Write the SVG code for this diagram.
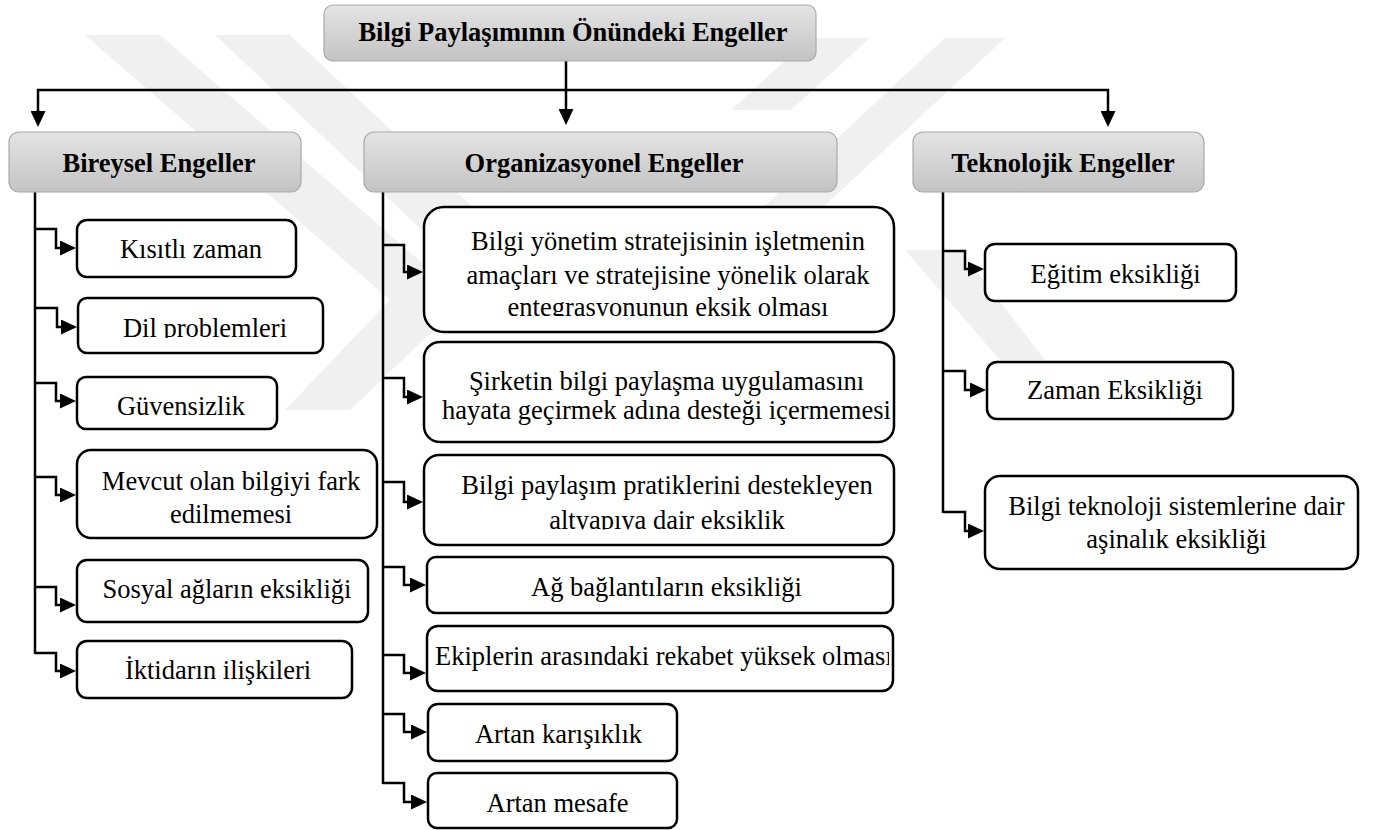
<svg xmlns="http://www.w3.org/2000/svg" width="1379" height="830" viewBox="0 0 1379 830">
<style>
.wm{fill:#f0f0f0}
.hdr{fill:url(#g);stroke:#a9a9a9;stroke-width:1.2}
.box{fill:#fff;stroke:#000;stroke-width:2.5}
.t{font-family:"Liberation Serif","Times New Roman",serif;font-size:26.5px;fill:#000;text-anchor:middle}
.b{font-weight:bold}
.c path{fill:none;stroke:#000;stroke-width:2.5;stroke-linejoin:miter}
</style>
<defs>
<linearGradient id="g" x1="0" y1="0" x2="0" y2="1">
<stop offset="0" stop-color="#e4e4e4"/>
<stop offset="1" stop-color="#c3c3c3"/>
</linearGradient>
<marker id="a" markerUnits="userSpaceOnUse" markerWidth="16" markerHeight="15" viewBox="0 0 16 15" refX="0" refY="7.5" orient="auto">
<path d="M0,0 L16,7.5 L0,15 Z" fill="#000"/>
</marker>
<clipPath id="cDil"><rect x="78" y="298" width="245" height="40"/></clipPath>
<clipPath id="cO1"><rect x="424" y="207" width="470" height="109"/></clipPath>
<clipPath id="cO2"><rect x="425" y="342" width="467" height="100"/></clipPath>
<clipPath id="cO3"><rect x="424" y="455" width="470" height="74.5"/></clipPath>
<clipPath id="cO5"><rect x="428" y="626" width="461" height="65"/></clipPath>
</defs>
<rect width="1379" height="830" fill="#fff"/>
<g id="watermark">
<polygon class="wm" points="85,35 160,35 465,300 390,300"/>
<polygon class="wm" points="215,35 290,35 497,230 422,230"/>
<polygon class="wm" points="810,38 870,38 791,110 731,110"/>
<polygon class="wm" points="945,38 1005,38 777,250 717,250"/>
<polygon class="wm" points="390,300 465,300 350,410 285,410"/>
<polygon class="wm" points="905,250 960,250 1045,360 1000,360"/>
</g>
<g id="connectors" class="c">
<path d="M566,61 V109" marker-end="url(#a)"/>
<path d="M38,111 V90 H1108 V111" />
<path d="M38,110 V111" marker-end="url(#a)"/>
<path d="M1108,110 V111" marker-end="url(#a)"/>
<path d="M35,192 V654"/>
<path d="M35,229 H56 V248 H60" marker-end="url(#a)"/>
<path d="M35,308 H57 V327 H61" marker-end="url(#a)"/>
<path d="M35,383 H56 V401 H60" marker-end="url(#a)"/>
<path d="M35,477 H56 V495 H60" marker-end="url(#a)"/>
<path d="M35,587 H56 V605 H60" marker-end="url(#a)"/>
<path d="M35,653 H56 V671 H60" marker-end="url(#a)"/>
<path d="M383,192 V784"/>
<path d="M383,245 H404 V272 H407" marker-end="url(#a)"/>
<path d="M383,378 H404 V397 H407" marker-end="url(#a)"/>
<path d="M383,482 H404 V502 H407" marker-end="url(#a)"/>
<path d="M383,567 H404 V585 H410" marker-end="url(#a)"/>
<path d="M383,655 H404 V673 H410" marker-end="url(#a)"/>
<path d="M383,714 H404 V732 H411" marker-end="url(#a)"/>
<path d="M383,783 H404 V802 H411" marker-end="url(#a)"/>
<path d="M943,192 V513"/>
<path d="M943,251 H965 V269 H968" marker-end="url(#a)"/>
<path d="M943,371 H965 V390 H970" marker-end="url(#a)"/>
<path d="M943,512 H965 V531 H968" marker-end="url(#a)"/>
</g>
<g id="n-root"><rect class="hdr" x="324" y="5" width="492" height="56" rx="9"/><text class="t b" x="573" y="41">Bilgi Paylaşımının Önündeki Engeller</text></g>
<g id="n-bireysel"><rect class="hdr" x="9" y="132" width="292" height="60" rx="10"/><text class="t b" x="159" y="172">Bireysel Engeller</text></g>
<g id="n-org"><rect class="hdr" x="364" y="132" width="473" height="60" rx="10"/><text class="t b" x="604" y="172">Organizasyonel Engeller</text></g>
<g id="n-tek"><rect class="hdr" x="913" y="132" width="291" height="60" rx="10"/><text class="t b" x="1063" y="172">Teknolojik Engeller</text></g>
<g id="n-b1"><rect class="box" x="77" y="220" width="219" height="57" rx="10"/><text class="t" x="191" y="258">Kısıtlı zaman</text></g>
<g id="n-b2"><rect class="box" x="78" y="298" width="245" height="55" rx="9"/><text class="t" x="205" y="337" clip-path="url(#cDil)">Dil problemleri</text></g>
<g id="n-b3"><rect class="box" x="77" y="377" width="200" height="52" rx="9"/><text class="t" x="181" y="415">Güvensizlik</text></g>
<g id="n-b4"><rect class="box" x="77" y="450" width="300" height="88" rx="14"/><text class="t" x="231" y="490">Mevcut olan bilgiyi fark</text><text class="t" x="231" y="523">edilmemesi</text></g>
<g id="n-b5"><rect class="box" x="77" y="560" width="291" height="62" rx="10"/><text class="t" x="227" y="598">Sosyal ağların eksikliği</text></g>
<g id="n-b6"><rect class="box" x="77" y="641" width="275" height="57" rx="10"/><text class="t" x="218" y="679">İktidarın ilişkileri</text></g>
<g id="n-o1"><rect class="box" x="424" y="207" width="470" height="125" rx="20"/><g clip-path="url(#cO1)"><text class="t" x="668" y="250">Bilgi yönetim stratejisinin işletmenin</text><text class="t" x="668" y="284">amaçları ve stratejisine yönelik olarak</text><text class="t" x="668" y="316">entegrasyonunun eksik olması</text></g></g>
<g id="n-o2"><rect class="box" x="424" y="342" width="470" height="100" rx="16"/><g clip-path="url(#cO2)"><text class="t" x="666.5" y="390">Şirketin bilgi paylaşma uygulamasını</text><text class="t" x="666.5" y="419">hayata geçirmek adına desteği içermemesi</text></g></g>
<g id="n-o3"><rect class="box" x="424" y="455" width="470" height="90" rx="15"/><g clip-path="url(#cO3)"><text class="t" x="667" y="494">Bilgi paylaşım pratiklerini destekleyen</text><text class="t" x="667" y="529">altyapıya dair eksiklik</text></g></g>
<g id="n-o4"><rect class="box" x="427" y="557" width="466" height="56" rx="9"/><text class="t" x="666.5" y="596">Ağ bağlantıların eksikliği</text></g>
<g id="n-o5"><rect class="box" x="427" y="626" width="466" height="65" rx="11"/><text class="t" x="435" y="665" style="text-anchor:start" clip-path="url(#cO5)">Ekiplerin arasındaki rekabet yüksek olması</text></g>
<g id="n-o6"><rect class="box" x="428" y="704" width="249" height="57" rx="10"/><text class="t" x="558.5" y="743">Artan karışıklık</text></g>
<g id="n-o7"><rect class="box" x="428" y="773" width="249" height="55" rx="9"/><text class="t" x="557.5" y="812">Artan mesafe</text></g>
<g id="n-t1"><rect class="box" x="985" y="244" width="251" height="57" rx="10"/><text class="t" x="1115.5" y="283">Eğitim eksikliği</text></g>
<g id="n-t2"><rect class="box" x="987" y="362" width="246" height="57" rx="10"/><text class="t" x="1115" y="399">Zaman Eksikliği</text></g>
<g id="n-t3"><rect class="box" x="985" y="476" width="373" height="93" rx="15"/><text class="t" x="1176.5" y="515">Bilgi teknoloji sistemlerine dair</text><text class="t" x="1176.5" y="548">aşinalık eksikliği</text></g>
</svg>
